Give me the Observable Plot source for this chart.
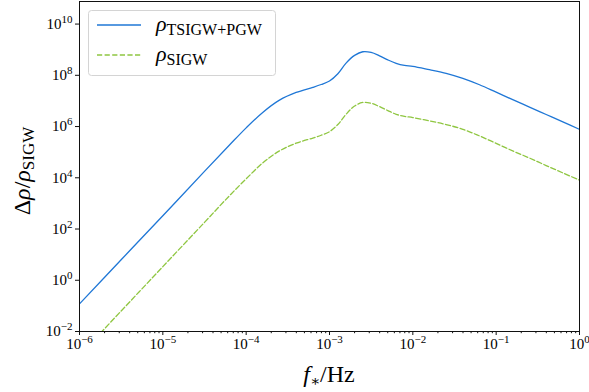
<!DOCTYPE html>
<html>
<head>
<meta charset="utf-8">
<script src="https://cdn.jsdelivr.net/npm/d3@7"></script>
<script src="https://cdn.jsdelivr.net/npm/@observablehq/plot@0.6"></script>
<style>
  body { margin: 0; background: #fff; }
  #chart { width: 589px; height: 392px; }
  #chart svg { display: block; }
</style>
</head>
<body>
<div id="chart"></div>
<script>
// Peak frequency f* (Hz)
const freq = [
  1e-6, 3.16e-6, 1e-5, 3.16e-5, 6.31e-5, 1e-4, 1.58e-4, 2.51e-4, 3.98e-4, 6.31e-4,
  7.94e-4, 1e-3, 1.26e-3, 1.58e-3, 2.0e-3, 2.51e-3, 3.16e-3, 3.98e-3, 5.01e-3, 6.31e-3, 7.94e-3,
  1e-2, 1.58e-2, 2.51e-2, 3.98e-2, 6.31e-2, 0.1, 0.158, 0.251, 0.398, 0.631, 1
];
// Δρ/ρ_SIGW for TSIGW + PGW
const rhoTotal = [
  0.12, 6.3, 330, 1.78e4, 1.9e5, 8.9e5, 3.55e6, 1.07e7, 2.14e7, 3.39e7,
  4.37e7, 6.0e7, 1.15e8, 3.0e8, 6.0e8, 8.3e8, 7.8e8, 5.75e8, 4.0e8, 2.95e8, 2.45e8,
  2.24e8, 1.66e8, 1.2e8, 7.6e7, 4.27e7, 2.19e7, 1.12e7, 5.75e6, 2.95e6, 1.51e6, 7.8e5
];
// Δρ/ρ_SIGW for SIGW alone
const rhoSigw = [
  1.17e-3, 0.063, 3.4, 182, 2.0e3, 9.1e3, 3.8e4, 1.12e5, 2.24e5, 3.55e5,
  4.57e5, 6.3e5, 1.2e6, 3.0e6, 6.3e6, 8.7e6, 8.1e6, 6.0e6, 4.2e6, 3.0e6, 2.5e6,
  2.24e6, 1.66e6, 1.2e6, 7.8e5, 4.3e5, 2.2e5, 1.12e5, 5.9e4, 3.0e4, 1.55e4, 8.1e3
];
const xTicks = [1e-6, 1e-5, 1e-4, 1e-3, 1e-2, 1e-1, 1];
const yTicks = [1e-2, 1, 1e2, 1e4, 1e6, 1e8, 1e10];
const seriesNames = ["TSIGW+PGW", "SIGW"];

const totalRows = freq.map((f, i) => ({f, v: rhoTotal[i]}));
const sigwRows = freq.map((f, i) => ({f, v: rhoSigw[i]}));
const minorX = d3.range(-6, 0).flatMap(e => d3.range(2, 10).map(m => m * 10 ** e));

const blue = "#1f77d6";
const green = "#8fc641";
const serif = '"Liberation Serif", "DejaVu Serif", serif';
const pow10 = d => "10^" + Math.round(Math.log10(d));

const chart = Plot.plot({
  width: 589,
  height: 392,
  marginLeft: 79,
  marginRight: 10,
  marginTop: 1,
  marginBottom: 61,
  style: {fontFamily: serif, fontSize: "15px", color: "#000", background: "#fff"},
  x: {type: "log", domain: [1e-6, 1], label: null},
  y: {type: "log", domain: [1e-2, 7.6e10], label: null},
  marks: [
    Plot.line(sigwRows, {x: "f", y: "v", stroke: green, strokeWidth: 1.3, strokeDasharray: "5.2,2.4", curve: "catmull-rom", clip: true}),
    Plot.line(totalRows, {x: "f", y: "v", stroke: blue, strokeWidth: 1.3, curve: "catmull-rom", clip: true}),
    Plot.frame({stroke: "#111", strokeWidth: 1}),
    Plot.axisX(minorX, {tickSize: 2.2, fill: "none", label: null, stroke: "#111"}),
    Plot.axisX(xTicks, {tickSize: 4, tickPadding: 3, tickFormat: pow10, label: null, stroke: "#111"}),
    Plot.axisY(yTicks, {tickSize: 4, tickPadding: 3, tickFormat: pow10, label: null, stroke: "#111"})
  ]
});

const svg = d3.select(chart);

// Tick labels as 10 with a raised exponent
svg.selectAll("text").each(function () {
  const m = /^10\^(-?\d+)$/.exec(this.textContent);
  if (!m) return;
  const t = d3.select(this);
  t.text(null);
  t.append("tspan").text("10");
  t.append("tspan").attr("dy", "-6").attr("font-size", "11px").text(m[1].replace("-", "\u2212"));
});

// Axis titles
const xl = svg.append("text")
  .attr("x", 329).attr("y", 382)
  .attr("text-anchor", "middle")
  .attr("font-family", serif).attr("font-size", "24px").attr("fill", "#000");
xl.append("tspan").attr("font-style", "italic").text("f");
xl.append("tspan").attr("font-size", "15px").attr("dy", "4").text("\u2217");
xl.append("tspan").attr("dy", "-4").text("/Hz");

const yl = svg.append("text")
  .attr("transform", "translate(30,171) rotate(-90)")
  .attr("text-anchor", "middle")
  .attr("font-family", serif).attr("font-size", "24px").attr("fill", "#000");
yl.append("tspan").text("\u0394");
yl.append("tspan").attr("font-style", "italic").text("\u03c1");
yl.append("tspan").text("/");
yl.append("tspan").attr("font-style", "italic").text("\u03c1");
yl.append("tspan").attr("font-size", "17px").attr("dy", "4").text(seriesNames[1]);

// Legend
const lg = svg.append("g").attr("font-family", serif).attr("text-anchor", "start");
lg.append("rect")
  .attr("x", 88.5).attr("y", 10.5).attr("width", 187).attr("height", 65).attr("rx", 3)
  .attr("fill", "#fff").attr("fill-opacity", 0.8).attr("stroke", "#d4d4d4");
const entries = [
  {name: seriesNames[0], color: blue, dash: null, y: 25},
  {name: seriesNames[1], color: green, dash: "5.2,2.4", y: 55}
];
for (const e of entries) {
  lg.append("line")
    .attr("x1", 97).attr("x2", 141).attr("y1", e.y).attr("y2", e.y)
    .attr("stroke", e.color).attr("stroke-width", 1.3)
    .attr("stroke-dasharray", e.dash);
  const t = lg.append("text").attr("x", 156).attr("y", e.y + 6)
    .attr("text-anchor", "start")
    .attr("font-size", "22px").attr("fill", "#000");
  t.append("tspan").attr("font-style", "italic").text("\u03c1");
  t.append("tspan").attr("font-size", "16px").attr("dy", "4").text(e.name);
}

document.getElementById("chart").appendChild(chart);
</script>
</body>
</html>
